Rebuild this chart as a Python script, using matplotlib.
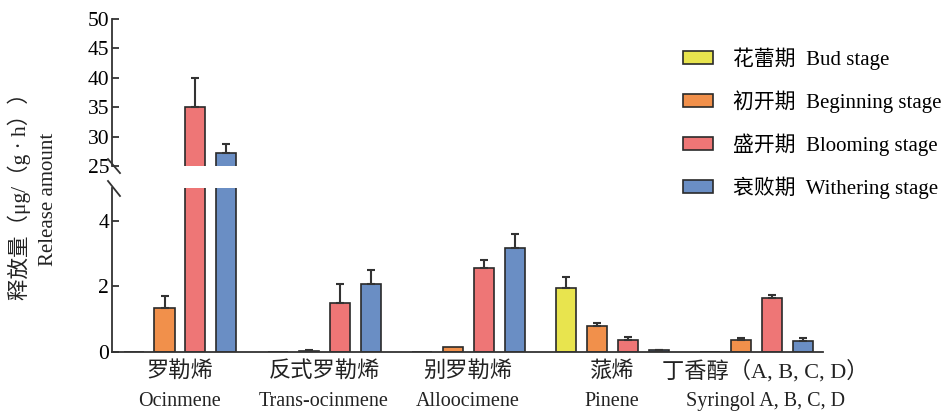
import numpy as np
import matplotlib
matplotlib.use("Agg")
import matplotlib.pyplot as plt
from matplotlib.transforms import blended_transform_factory

plt.rcParams['font.family'] = ['Liberation Serif', 'Noto Sans CJK SC']

# data
groups_cn = ['罗勒烯', '反式罗勒烯', '别罗勒烯', '蒎烯', '丁香醇（A, B, C, D）']
groups_en = ['Ocinmene', 'Trans-ocinmene', 'Alloocimene', 'Pinene', 'Syringol A, B, C, D']
stages = ['花蕾期  Bud stage', '初开期  Beginning stage', '盛开期  Blooming stage', '衰败期  Withering stage']
colors = ['#e8e44e', '#f1904b', '#ee7676', '#6a8ec4']

bud = [0, 0, 0, 1.95, 0]
beginning = [1.35, 0.04, 0.16, 0.78, 0.37]
blooming = [35.0, 1.50, 2.55, 0.37, 1.66]
withering = [27.3, 2.07, 3.18, 0.05, 0.35]

bud_err = [0, 0, 0, 0.33, 0]
beginning_err = [0.37, 0.02, 0.0, 0.10, 0.06]
blooming_err = [5.0, 0.56, 0.25, 0.09, 0.09]
withering_err = [1.4, 0.43, 0.42, 0.02, 0.09]

values = [bud, beginning, blooming, withering]
errors = [bud_err, beginning_err, blooming_err, withering_err]

fig = plt.figure(figsize=(9.41, 4.11), dpi=100)
ax_top = fig.add_axes([0.119, 0.596, 0.756, 0.358])
ax_bot = fig.add_axes([0.119, 0.1436, 0.756, 0.399])

x = np.arange(len(groups_cn))
step = 0.215
width = 0.139
edge = '#2a2a2a'

for ax in (ax_top, ax_bot):
    for i, (vals, errs) in enumerate(zip(values, errors)):
        pos = x + (i - 1.5) * step
        ax.bar(pos, vals, width, color=colors[i], edgecolor=edge, linewidth=1.2,
               label=stages[i], zorder=2)
        has_err = np.array(errs) > 0
        ax.errorbar(pos[has_err], np.array(vals)[has_err],
                    yerr=[np.zeros(has_err.sum()), np.array(errs)[has_err]],
                    fmt='none', ecolor='#333333', elinewidth=1.5, capsize=3, capthick=1.5,
                    zorder=3)
    ax.set_xlim(-0.472, 4.465)
    for s in ['top', 'right']:
        ax.spines[s].set_visible(False)
    ax.spines['left'].set_linewidth(1.3)
    ax.spines['left'].set_color('#333333')
    ax.tick_params(axis='y', direction='in', length=5, width=1.3, color='#333333',
                   labelsize=15.5, pad=2)
    ax.set_xticks([])

ax_top.set_ylim(25, 50)
ax_top.set_yticks([25, 30, 35, 40, 45, 50])
ax_top.spines['bottom'].set_visible(False)

ax_bot.set_ylim(0, 5)
ax_bot.set_yticks([0, 2, 4])
ax_bot.spines['bottom'].set_linewidth(1.3)
ax_bot.spines['bottom'].set_color('#333333')

# break marks
kw = dict(color='#333333', linewidth=1.3, clip_on=False)
ax_top.plot([-4 / 711, 8 / 711], [7 / 147, -7 / 147], transform=ax_top.transAxes, **kw)
ax_bot.plot([-4 / 711, 8 / 711], [1 + 7 / 164, 1 - 8 / 164], transform=ax_bot.transAxes, **kw)

# category labels
tr = blended_transform_factory(ax_bot.transData, fig.transFigure)
for i in range(len(groups_cn)):
    off = 0.06 if i == 4 else 0
    ax_bot.text(x[i] + off, 0.097, groups_cn[i], transform=tr, ha='center', va='center',
                fontsize=16, color='#222222')
    ax_bot.text(x[i] + off, 0.0235, groups_en[i], transform=tr, ha='center', va='center',
                fontsize=14.5, color='#222222')

# y label
fig.text(0.021, 0.535, '释放量（μg/（g · h））', rotation=90, ha='center', va='center',
         fontsize=15.5, color='#222222')
fig.text(0.052, 0.515, 'Release amount', rotation=90, ha='center', va='center',
         fontsize=15, color='#222222')

handles, labels = ax_bot.get_legend_handles_labels()
fig.legend(handles, labels, loc='upper left', bbox_to_anchor=(0.726, 0.885),
           frameon=False, fontsize=15, handlelength=1.45, handleheight=0.6,
           handletextpad=0.95, labelspacing=0.98, borderpad=0, borderaxespad=0)

fig.savefig('out.png', dpi=100)
